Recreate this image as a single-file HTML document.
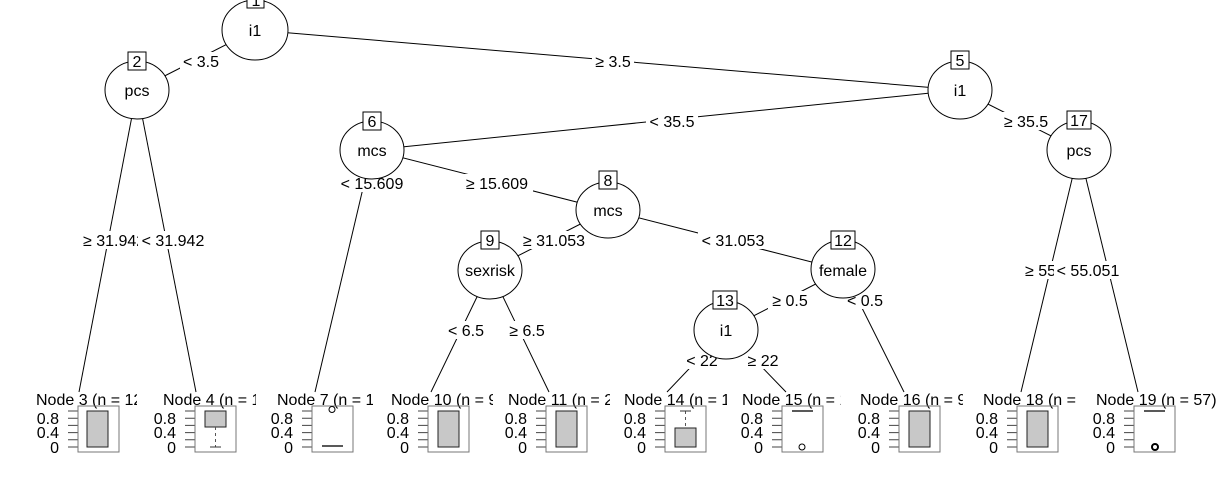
<!DOCTYPE html>
<html><head><meta charset="utf-8"><style>
html,body{margin:0;padding:0;background:#fff;}
svg{display:block;font-family:"Liberation Sans",sans-serif;}
</style></head><body>
<svg width="1216" height="498" viewBox="0 0 1216 498" xmlns="http://www.w3.org/2000/svg">
<defs>
<clipPath id="c3"><rect x="0" y="385" width="137" height="30"/></clipPath>
<clipPath id="c4"><rect x="150" y="385" width="106" height="30"/></clipPath>
<clipPath id="c7"><rect x="260" y="385" width="113" height="30"/></clipPath>
<clipPath id="c10"><rect x="380" y="385" width="113" height="30"/></clipPath>
<clipPath id="c11"><rect x="500" y="385" width="110" height="30"/></clipPath>
<clipPath id="c14"><rect x="610" y="385" width="117" height="30"/></clipPath>
<clipPath id="c15"><rect x="735" y="385" width="106" height="30"/></clipPath>
<clipPath id="c16"><rect x="850" y="385" width="113" height="30"/></clipPath>
<clipPath id="c18"><rect x="970" y="385" width="108" height="30"/></clipPath>
</defs>
<g stroke="#000" stroke-width="1" fill="none">
<line x1="255" y1="30" x2="137" y2="90"/>
<line x1="255" y1="30" x2="960" y2="90"/>
<line x1="137" y1="90" x2="79" y2="392"/>
<line x1="137" y1="90" x2="196" y2="392"/>
<line x1="960" y1="90" x2="372" y2="150"/>
<line x1="960" y1="90" x2="1079" y2="150"/>
<line x1="372" y1="150" x2="315" y2="392"/>
<line x1="372" y1="150" x2="608" y2="210"/>
<line x1="608" y1="210" x2="490" y2="270"/>
<line x1="608" y1="210" x2="843" y2="270"/>
<line x1="490" y1="270" x2="431" y2="392"/>
<line x1="490" y1="270" x2="549" y2="392"/>
<line x1="843" y1="270" x2="726" y2="330"/>
<line x1="843" y1="270" x2="904" y2="392"/>
<line x1="726" y1="330" x2="667" y2="392"/>
<line x1="726" y1="330" x2="786" y2="392"/>
<line x1="1079" y1="150" x2="1021" y2="392"/>
<line x1="1079" y1="150" x2="1138" y2="392"/>
</g>
<g font-size="16" text-anchor="middle">
<rect x="180" y="52" width="42" height="18" fill="#fff"/><text x="201" y="67">&lt; 3.5</text>
<rect x="592" y="52" width="42" height="18" fill="#fff"/><text x="613" y="67">≥ 3.5</text>
<rect x="646" y="112" width="52" height="18" fill="#fff"/><text x="672" y="127">&lt; 35.5</text>
<rect x="1000" y="112" width="52" height="18" fill="#fff"/><text x="1026" y="127">≥ 35.5</text>
<rect x="82" y="231" width="52" height="18" fill="#fff"/><text x="83" y="246" text-anchor="start">≥ 31.942</text>
<rect x="138" y="231" width="70" height="18" fill="#fff"/><text x="173" y="246">&lt; 31.942</text>
<rect x="336" y="174" width="72" height="18" fill="#fff"/><text x="372" y="189">&lt; 15.609</text>
<rect x="461" y="174" width="72" height="18" fill="#fff"/><text x="497" y="189">≥ 15.609</text>
<rect x="519" y="231" width="70" height="18" fill="#fff"/><text x="554" y="246">≥ 31.053</text>
<rect x="698" y="231" width="70" height="18" fill="#fff"/><text x="733" y="246">&lt; 31.053</text>
<rect x="443" y="321" width="46" height="18" fill="#fff"/><text x="466" y="336">&lt; 6.5</text>
<rect x="504" y="321" width="46" height="18" fill="#fff"/><text x="527" y="336">≥ 6.5</text>
<rect x="768" y="291" width="44" height="18" fill="#fff"/><text x="790" y="306">≥ 0.5</text>
<rect x="843" y="291" width="44" height="18" fill="#fff"/><text x="865" y="306">&lt; 0.5</text>
<rect x="683" y="351" width="38" height="18" fill="#fff"/><text x="702" y="366">&lt; 22</text>
<rect x="745" y="351" width="36" height="18" fill="#fff"/><text x="763" y="366">≥ 22</text>
<rect x="1024" y="261" width="32" height="18" fill="#fff"/><text x="1025" y="276" text-anchor="start">≥ 55.051</text>
<rect x="1054" y="261" width="68" height="18" fill="#fff"/><text x="1088" y="276">&lt; 55.051</text>
</g>
<g stroke="#000" fill="#fff">
<ellipse cx="255" cy="30" rx="33" ry="30"/>
<ellipse cx="137" cy="90" rx="32" ry="29"/>
<ellipse cx="960" cy="90" rx="32" ry="29"/>
<ellipse cx="372" cy="150" rx="32" ry="29"/>
<ellipse cx="608" cy="210" rx="32" ry="28"/>
<ellipse cx="490" cy="270" rx="32" ry="29"/>
<ellipse cx="843" cy="269" rx="32" ry="29"/>
<ellipse cx="726" cy="330" rx="32" ry="29"/>
<ellipse cx="1079" cy="150" rx="32" ry="29"/>
</g>
<g font-size="16" text-anchor="middle">
<text x="255" y="36">i1</text>
<text x="137" y="96">pcs</text>
<text x="960" y="96">i1</text>
<text x="372" y="156">mcs</text>
<text x="608" y="216">mcs</text>
<text x="490" y="276">sexrisk</text>
<text x="843" y="276">female</text>
<text x="726" y="336">i1</text>
<text x="1079" y="156">pcs</text>
</g>
<g stroke="#000" fill="#fff">
<rect x="247" y="-6" width="17" height="14"/>
<rect x="128" y="52" width="18" height="18"/>
<rect x="951" y="51" width="18" height="18"/>
<rect x="363" y="112" width="18" height="18"/>
<rect x="599" y="171" width="18" height="18"/>
<rect x="481" y="231" width="18" height="18"/>
<rect x="831" y="231" width="24" height="18"/>
<rect x="713" y="291" width="24" height="18"/>
<rect x="1067" y="111" width="24" height="18"/>
</g>
<g font-size="16" text-anchor="middle">
<text x="256" y="6">1</text>
<text x="137" y="67">2</text>
<text x="960" y="66">5</text>
<text x="372" y="127">6</text>
<text x="608" y="186">8</text>
<text x="490" y="246">9</text>
<text x="843" y="246">12</text>
<text x="725" y="306">13</text>
<text x="1079" y="126">17</text>
</g>
<g font-size="16">
<text x="36" y="405" clip-path="url(#c3)">Node 3 (n = 123)</text>
<text x="163" y="405" clip-path="url(#c4)">Node 4 (n = 15)</text>
<text x="277" y="405" clip-path="url(#c7)">Node 7 (n = 11)</text>
<text x="391" y="405" clip-path="url(#c10)">Node 10 (n = 98)</text>
<text x="508" y="405" clip-path="url(#c11)">Node 11 (n = 22)</text>
<text x="624" y="405" clip-path="url(#c14)">Node 14 (n = 10)</text>
<text x="742" y="405" clip-path="url(#c15)">Node 15 (n = 10)</text>
<text x="860" y="405" clip-path="url(#c16)">Node 16 (n = 99)</text>
<text x="983" y="405" clip-path="url(#c18)">Node 18 (n = 22)</text>
<text x="1096" y="405">Node 19 (n = 57)</text>
</g>
<g font-size="16" text-anchor="end">
<g transform="translate(78 0)">
<text x="-19" y="424">0.8</text><text x="-19" y="438">0.4</text><text x="-19" y="453">0</text>
<path d="M-10 447H0M-10 439.8H0M-10 432.6H0M-10 425.4H0M-10 418.2H0M-10 411H0" stroke="#444"/>
<rect x="0" y="406" width="41" height="46" fill="none" stroke="#777"/>
<rect x="9" y="411" width="21" height="36" fill="#c8c8c8" stroke="#222"/>
</g>
<g transform="translate(195 0)">
<text x="-19" y="424">0.8</text><text x="-19" y="438">0.4</text><text x="-19" y="453">0</text>
<path d="M-10 447H0M-10 439.8H0M-10 432.6H0M-10 425.4H0M-10 418.2H0M-10 411H0" stroke="#444"/>
<rect x="0" y="406" width="41" height="46" fill="none" stroke="#777"/>
<rect x="10" y="411" width="21" height="16" fill="#c8c8c8" stroke="#222"/>
<line x1="20.5" y1="427" x2="20.5" y2="447" stroke="#555" stroke-dasharray="3 3"/>
<line x1="15" y1="447" x2="26" y2="447" stroke="#333"/>
</g>
<g transform="translate(312 0)">
<text x="-19" y="424">0.8</text><text x="-19" y="438">0.4</text><text x="-19" y="453">0</text>
<path d="M-10 447H0M-10 439.8H0M-10 432.6H0M-10 425.4H0M-10 418.2H0M-10 411H0" stroke="#444"/>
<rect x="0" y="406" width="41" height="46" fill="none" stroke="#777"/>
<line x1="10" y1="446" x2="31" y2="446" stroke="#222" stroke-width="1.5"/>
<circle cx="20" cy="409.5" r="3" fill="#fff" stroke="#000"/>
</g>
<g transform="translate(428 0)">
<text x="-19" y="424">0.8</text><text x="-19" y="438">0.4</text><text x="-19" y="453">0</text>
<path d="M-10 447H0M-10 439.8H0M-10 432.6H0M-10 425.4H0M-10 418.2H0M-10 411H0" stroke="#444"/>
<rect x="0" y="406" width="41" height="46" fill="none" stroke="#777"/>
<rect x="10" y="411" width="21" height="36" fill="#c8c8c8" stroke="#222"/>
</g>
<g transform="translate(546 0)">
<text x="-19" y="424">0.8</text><text x="-19" y="438">0.4</text><text x="-19" y="453">0</text>
<path d="M-10 447H0M-10 439.8H0M-10 432.6H0M-10 425.4H0M-10 418.2H0M-10 411H0" stroke="#444"/>
<rect x="0" y="406" width="41" height="46" fill="none" stroke="#777"/>
<rect x="10" y="411" width="21" height="36" fill="#c8c8c8" stroke="#222"/>
</g>
<g transform="translate(665 0)">
<text x="-19" y="424">0.8</text><text x="-19" y="438">0.4</text><text x="-19" y="453">0</text>
<path d="M-10 447H0M-10 439.8H0M-10 432.6H0M-10 425.4H0M-10 418.2H0M-10 411H0" stroke="#444"/>
<rect x="0" y="406" width="41" height="46" fill="none" stroke="#777"/>
<rect x="10" y="428" width="21" height="19" fill="#c8c8c8" stroke="#222"/>
<line x1="20.5" y1="411" x2="20.5" y2="428" stroke="#555" stroke-dasharray="3 3"/>
<line x1="15" y1="411" x2="26" y2="411" stroke="#333"/>
</g>
<g transform="translate(782 0)">
<text x="-19" y="424">0.8</text><text x="-19" y="438">0.4</text><text x="-19" y="453">0</text>
<path d="M-10 447H0M-10 439.8H0M-10 432.6H0M-10 425.4H0M-10 418.2H0M-10 411H0" stroke="#444"/>
<rect x="0" y="406" width="41" height="46" fill="none" stroke="#777"/>
<line x1="10" y1="411" x2="31" y2="411" stroke="#222" stroke-width="1.5"/>
<circle cx="20" cy="447" r="3" fill="#fff" stroke="#000"/>
</g>
<g transform="translate(899 0)">
<text x="-19" y="424">0.8</text><text x="-19" y="438">0.4</text><text x="-19" y="453">0</text>
<path d="M-10 447H0M-10 439.8H0M-10 432.6H0M-10 425.4H0M-10 418.2H0M-10 411H0" stroke="#444"/>
<rect x="0" y="406" width="41" height="46" fill="none" stroke="#777"/>
<rect x="10" y="411" width="21" height="36" fill="#c8c8c8" stroke="#222"/>
</g>
<g transform="translate(1017 0)">
<text x="-19" y="424">0.8</text><text x="-19" y="438">0.4</text><text x="-19" y="453">0</text>
<path d="M-10 447H0M-10 439.8H0M-10 432.6H0M-10 425.4H0M-10 418.2H0M-10 411H0" stroke="#444"/>
<rect x="0" y="406" width="41" height="46" fill="none" stroke="#777"/>
<rect x="10" y="411" width="21" height="36" fill="#c8c8c8" stroke="#222"/>
</g>
<g transform="translate(1134 0)">
<text x="-19" y="424">0.8</text><text x="-19" y="438">0.4</text><text x="-19" y="453">0</text>
<path d="M-10 447H0M-10 439.8H0M-10 432.6H0M-10 425.4H0M-10 418.2H0M-10 411H0" stroke="#444"/>
<rect x="0" y="406" width="41" height="46" fill="none" stroke="#777"/>
<line x1="10" y1="411" x2="31" y2="411" stroke="#222" stroke-width="1.5"/>
<circle cx="21" cy="447" r="3" fill="#fff" stroke="#000" stroke-width="2"/>
</g>
</g>
</svg>
</body></html>
